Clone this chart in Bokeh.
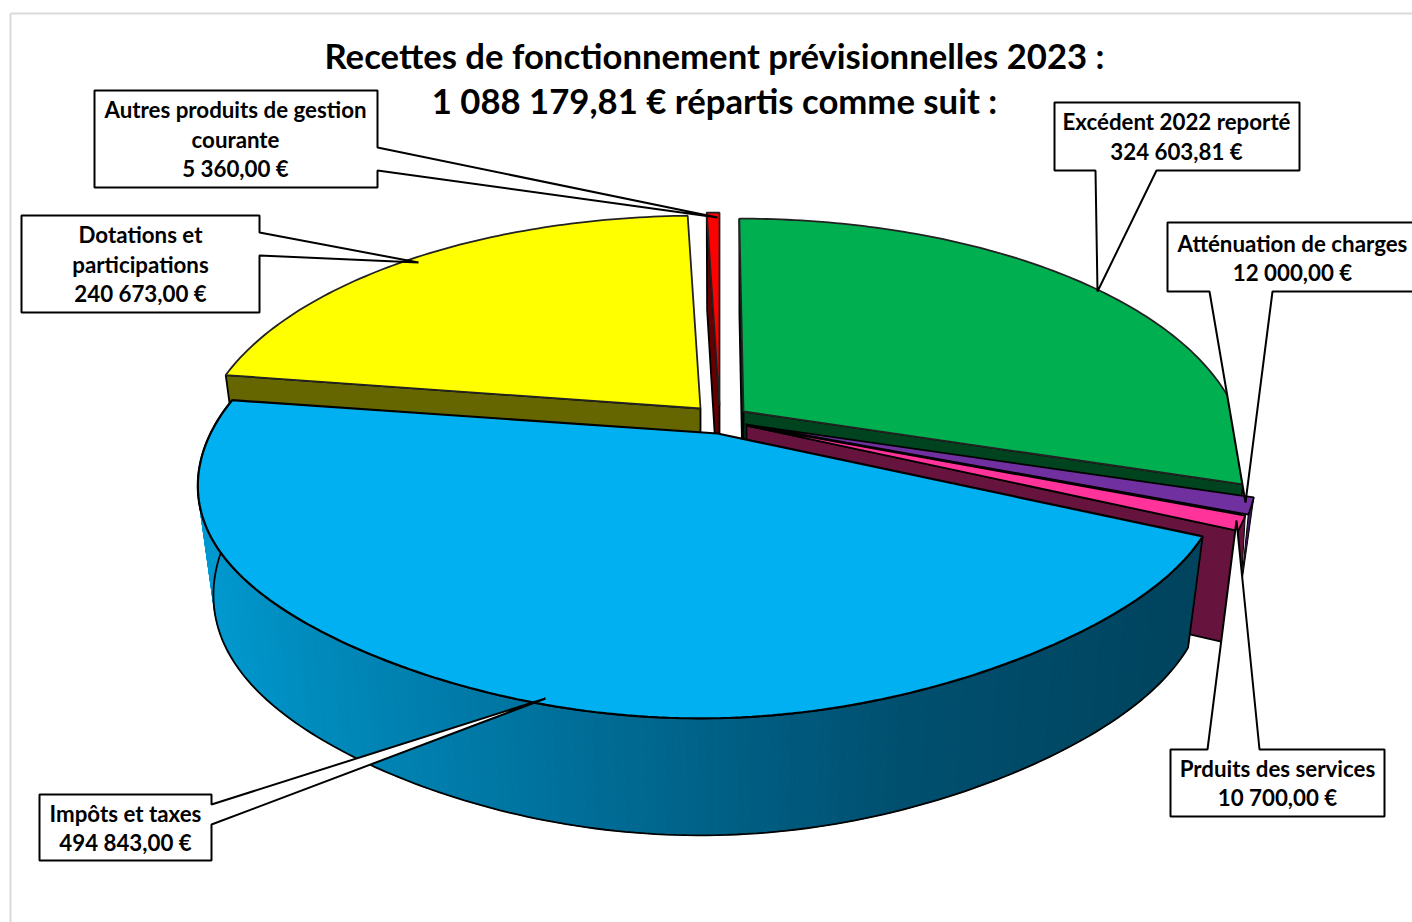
import math
from bokeh.plotting import figure
from bokeh.models import Range1d
from bokeh.core.properties import value
from bokeh.embed import file_html
from bokeh.resources import INLINE

# ---------- data ----------
categories = ["Excédent 2022 reporté", "Atténuation de charges", "Prduits des services",
              "Impôts et taxes", "Dotations et participations", "Autres produits de gestion courante"]
amounts = [324603.81, 12000.00, 10700.00, 494843.00, 240673.00, 5360.00]
amount_labels = ["324 603,81 €", "12 000,00 €", "10 700,00 €", "494 843,00 €", "240 673,00 €", "5 360,00 €"]
top_colors = ["#00B050", "#7030A0", "#FF3399", "#00B0F0", "#FFFF00", "#FF0000"]
wall_colors = ["#00431F", "#3A1A5C", "#66143D", "#00688F", "#666600", "#660000"]
title_lines = ["Recettes de fonctionnement prévisionnelles 2023 :", "1 088 179,81 € répartis comme suit :"]

# ---------- projection of the exploded pie (layout parameters) ----------
GEOM = [  # cx, cy, a (right half), a (left half), d, k
    (743, 411, 492, 492, -5, 0),
    (745, 424, 502, 502, 0, 0),
    (746, 425, 498, 498, 0, 0),
    (717, 433, 498, 507, 14, 0.04),
    (700, 408, 494, 494, 0, 0),
    (719, 405, 492, 492, 0, 0),
]
B, C, SHRINK = 0.1925, 230, 0.97
total = sum(amounts)
starts, a0 = [], 0.0
for v_ in amounts:
    starts.append(a0)
    a0 += v_ / total * 2 * math.pi
ends = [s + v_ / total * 2 * math.pi for s, v_ in zip(starts, amounts)]


def pt(i, th, bottom=False, rim=True):
    cx, cy, ar, al, d, k = GEOM[i]
    if not rim:
        x, y, v = cx, cy, 0.0
    else:
        u, v = math.sin(th), math.cos(th)
        w = 1 + B * v
        a = ar if u > 0 else al
        x = cx + (a * u + d * v) / w
        y = cy - C * v / w * (1 - k * math.sin(2 * th) ** 2)
    if bottom:
        x = cx + (x - cx) * SHRINK
        y = y + 107 - 10 * v
    return x, y


def top_face(i):
    n = max(6, int((ends[i] - starts[i]) * 60))
    pts = [pt(i, starts[i] + (ends[i] - starts[i]) * k / n) for k in range(n + 1)]
    pts.append(pt(i, 0, rim=False))
    return [p_[0] for p_ in pts], [p_[1] for p_ in pts]


def wall(i, th):
    pts = [pt(i, th), pt(i, th, rim=False), pt(i, th, True, False), pt(i, th, True)]
    return [p_[0] for p_ in pts], [p_[1] for p_ in pts]


p = figure(width=1412, height=922, x_range=Range1d(0, 1412), y_range=Range1d(922, 0),
           toolbar_location=None, output_backend="svg", min_border=0,
           background_fill_color="white", border_fill_color="white", outline_line_color=None)
p.axis.visible = False
p.grid.visible = False

# frame
p.line([10, 10], [922, 13], line_color="#D9D9D9", line_width=2)
p.line([10, 1412], [13, 13], line_color="#D9D9D9", line_width=2)

LW = 1.8


def draw_wall(i, th, color=None):
    xs, ys = wall(i, th)
    p.patch(xs, ys, fill_color=color or wall_colors[i], line_color="black", line_width=LW)


def draw_top(i, lw=LW, lc="#222222"):
    xs, ys = top_face(i)
    p.patch(xs, ys, fill_color=top_colors[i], line_color=lc, line_width=lw)


# yellow
draw_wall(4, starts[4])
draw_top(4)
# red
draw_wall(5, starts[5])
draw_top(5)
# green
draw_wall(0, starts[0])
draw_wall(0, ends[0])
draw_top(0)
# narrow outer slivers of purple / pink
c1, c2, c3 = pt(1, starts[1]), pt(1, ends[1]), pt(2, ends[2])
tip = (c3[0] + 3, c3[1] + 57)
p.patch([c1[0], c2[0], tip[0]], [c1[1], c2[1], tip[1]], fill_color=wall_colors[1], line_color="black", line_width=1)
c4 = pt(2, starts[2])
p.patch([c4[0], c3[0], tip[0]], [c4[1], c3[1], tip[1]], fill_color=wall_colors[2], line_color="black", line_width=1)
# pink wall then purple + pink tops
draw_wall(2, ends[2])
draw_top(1, lc="black")
draw_top(2, lc="black")

# blue side with its left-to-right gradient
STEPS = 170
qx, qy, qc = [], [], []
stops = [(190, (0, 155, 210)), (300, (0, 140, 190)), (600, (0, 108, 150)), (900, (0, 80, 112)), (1200, (0, 68, 94))]


def grad(x):
    for (x0, c0), (x1, c1_) in zip(stops, stops[1:]):
        if x <= x1:
            t = max(0.0, (x - x0) / (x1 - x0))
            return "#%02x%02x%02x" % tuple(int(c0[k] + (c1_[k] - c0[k]) * t) for k in range(3))
    return "#%02x%02x%02x" % stops[-1][1]


ths = [starts[3] + (ends[3] - starts[3]) * k / STEPS for k in range(STEPS + 1)]
for t0, t1 in zip(ths, ths[1:]):
    a_, b_, c_, d_ = pt(3, t0), pt(3, t1), pt(3, t1, True), pt(3, t0, True)
    qx.append([a_[0], b_[0], c_[0], d_[0]])
    qy.append([a_[1], b_[1], c_[1], d_[1]])
    qc.append(grad((a_[0] + b_[0]) / 2))
p.patches(qx, qy, fill_color=qc, line_color=qc, line_width=1)
outline = [pt(3, t) for t in ths] + [pt(3, t, True) for t in reversed(ths)]
p.patch([q[0] for q in outline], [q[1] for q in outline], fill_alpha=0, line_color="black", line_width=LW)
draw_top(3, lw=2.2, lc="black")

# ---------- callouts (label box + wedge leader) ----------
CALLOUTS = [  # category index, outline, text centre, text rows, text lines
    (5, [(94, 90), (377, 90), (377, 147), (717, 217), (377, 170), (377, 187), (94, 187)],
     235, [109, 139, 168], ["Autres produits de gestion", "courante"]),
    (4, [(21, 215), (259, 215), (259, 232), (418, 262), (259, 255), (259, 312), (21, 312)],
     140, [234, 264, 293], ["Dotations et", "participations"]),
    (0, [(1054, 102), (1299, 102), (1299, 170), (1156, 170), (1097, 291), (1095, 170), (1054, 170)],
     1176, [121, 151], ["Excédent 2022 reporté"]),
    (1, [(1167, 222), (1420, 222), (1420, 291), (1272, 291), (1245, 502), (1209, 291), (1167, 291)],
     1292, [243, 272], ["Atténuation de charges"]),
    (2, [(1170, 749), (1207, 749), (1236, 520), (1259, 749), (1384, 749), (1384, 816), (1170, 816)],
     1277, [768, 797], ["Prduits des services"]),
    (3, [(39, 794), (211, 794), (211, 804), (545, 698), (211, 824), (211, 860), (39, 860)],
     125, [813, 842], ["Impôts et taxes"]),
]
for idx, poly, tx, tys, lines in CALLOUTS:
    p.patch([q[0] for q in poly], [q[1] for q in poly], fill_color="white", line_color="black", line_width=2)
    all_lines = lines + [amount_labels[idx]]
    p.text([tx] * len(all_lines), tys, text=all_lines, text_align="center", text_baseline="middle",
           text_font=value("Lato"), text_font_style="bold", text_font_size="22.3px", text_color="black")

p.text([714, 714], [55, 100], text=title_lines, text_align="center", text_baseline="middle",
       text_font=value("Lato"), text_font_style="bold", text_font_size="34.7px", text_color="black")

open("out.html", "w").write(file_html(p, INLINE))
